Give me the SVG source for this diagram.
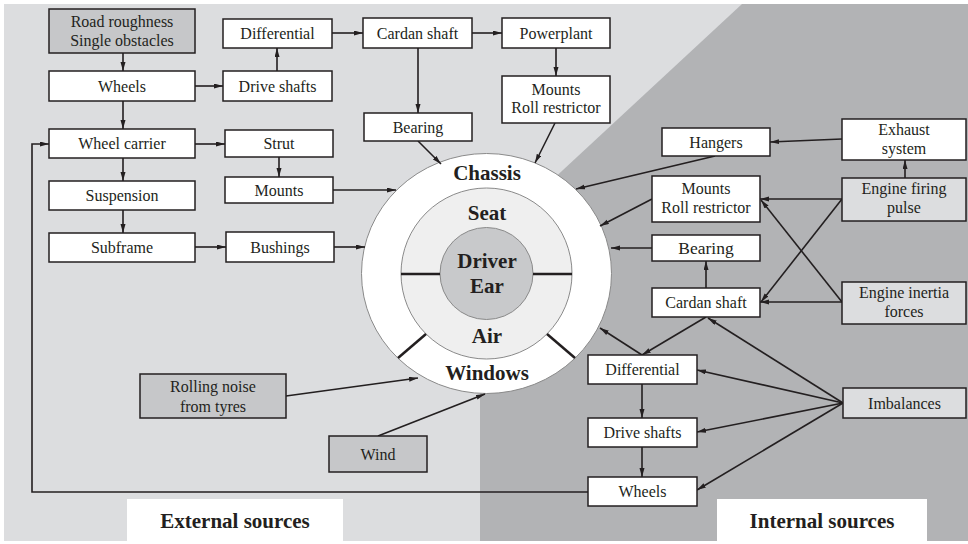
<svg xmlns="http://www.w3.org/2000/svg" width="968" height="544" viewBox="0 0 968 544">
<style>
.bx{fill:#fff;stroke:#231f20;stroke-width:1.5}
.mg{fill:#c6c7c9}
.lg{fill:#dcdddf}
.t{font-family:"Liberation Serif","Times New Roman",serif;font-size:16px;fill:#231f20;text-anchor:middle}
.tb{font-family:"Liberation Serif","Times New Roman",serif;font-size:21px;font-weight:bold;fill:#231f20;text-anchor:middle}
.c{fill:none;stroke:#231f20;stroke-width:1.6;marker-end:url(#ah)}
.ring{stroke:#8a8a8a;stroke-width:1}
.div{stroke:#231f20;stroke-width:2.5}
</style>
<defs>
<marker id="ah" markerUnits="userSpaceOnUse" markerWidth="10" markerHeight="6" refX="9" refY="2.5" orient="auto">
<path d="M0,0 L9,2.5 L0,5 z" fill="#231f20"/>
</marker>
</defs>
<rect x="0" y="0" width="968" height="544" fill="#fff"/>
<rect x="4" y="4" width="964" height="537" fill="#dcdddf"/>
<polygon points="742,4 968,4 968,541 480,541 480,247" fill="#b2b3b5"/>
<rect x="127" y="499" width="216" height="42" fill="#fff"/>
<text class="tb" x="235" y="528">External sources</text>
<rect x="717" y="499" width="210" height="42" fill="#fff"/>
<text class="tb" x="822" y="528">Internal sources</text>

<g id="cabin">
<ellipse cx="486.5" cy="273.5" rx="125" ry="120" fill="#fff" class="ring"/>
<ellipse cx="486.5" cy="273.5" rx="85.5" ry="85.5" fill="#efefef" class="ring"/>
<ellipse cx="486.5" cy="273.5" rx="46.5" ry="46" fill="#c8c9cb" class="ring"/>
<line class="div" x1="401" y1="274" x2="440" y2="274"/>
<line class="div" x1="533" y1="274" x2="572" y2="274"/>
<line class="div" x1="426" y1="334" x2="398" y2="358"/>
<line class="div" x1="547" y1="334" x2="575" y2="358"/>
<text class="tb" x="487" y="180">Chassis</text>
<text class="tb" x="487" y="220">Seat</text>
<text class="tb" x="487" y="268">Driver</text>
<text class="tb" x="487" y="293">Ear</text>
<text class="tb" x="487" y="343">Air</text>
<text class="tb" x="487" y="380">Windows</text>
</g>

<g id="connectors">
<line class="c" x1="123" y1="53" x2="123" y2="71"/>
<line class="c" x1="195" y1="86" x2="223" y2="86"/>
<line class="c" x1="277" y1="71" x2="277" y2="48"/>
<line class="c" x1="332" y1="33" x2="363" y2="33"/>
<line class="c" x1="472" y1="33" x2="502" y2="33"/>
<line class="c" x1="418" y1="48" x2="418" y2="113"/>
<line class="c" x1="556" y1="48" x2="556" y2="76"/>
<line class="c" x1="418" y1="141" x2="441" y2="164"/>
<line class="c" x1="555" y1="123" x2="535" y2="163"/>
<line class="c" x1="123" y1="101" x2="123" y2="129"/>
<line class="c" x1="195" y1="144" x2="225" y2="144"/>
<line class="c" x1="279" y1="157" x2="279" y2="177"/>
<line class="c" x1="333" y1="190" x2="396" y2="190"/>
<line class="c" x1="123" y1="158" x2="123" y2="181"/>
<line class="c" x1="123" y1="210" x2="123" y2="233"/>
<line class="c" x1="195" y1="247" x2="226" y2="247"/>
<line class="c" x1="334" y1="247" x2="365" y2="247"/>
<line class="c" x1="286" y1="396" x2="418" y2="378"/>
<line class="c" x1="378" y1="436" x2="485" y2="394"/>
<polyline class="c" points="588,492 32,492 32,144 49,144"/>
<line class="c" x1="842" y1="139" x2="770" y2="142"/>
<line class="c" x1="715" y1="156" x2="576" y2="189"/>
<line class="c" x1="905" y1="178" x2="905" y2="160"/>
<line class="c" x1="842" y1="199" x2="760" y2="199"/>
<line class="c" x1="842" y1="199" x2="761" y2="302"/>
<line class="c" x1="842" y1="302" x2="760" y2="302"/>
<line class="c" x1="842" y1="302" x2="761" y2="200"/>
<line class="c" x1="652" y1="199" x2="600" y2="226"/>
<line class="c" x1="706" y1="288" x2="706" y2="261"/>
<line class="c" x1="652" y1="248" x2="611" y2="248"/>
<line class="c" x1="706" y1="317" x2="642" y2="355"/>
<line class="c" x1="642" y1="355" x2="600" y2="328"/>
<line class="c" x1="843" y1="403" x2="708" y2="318"/>
<line class="c" x1="843" y1="403" x2="697" y2="370"/>
<line class="c" x1="843" y1="403" x2="697" y2="432"/>
<line class="c" x1="843" y1="403" x2="697" y2="490"/>
<line class="c" x1="642" y1="384" x2="642" y2="418"/>
<line class="c" x1="642" y1="447" x2="642" y2="477"/>
</g>

<g id="road"><rect class="bx mg" x="49" y="9" width="146" height="44"/><text class="t" x="122" y="27">Road roughness</text><text class="t" x="122" y="46">Single obstacles</text></g>
<g id="differential-ext"><rect class="bx" x="223" y="19" width="109" height="29"/><text class="t" x="277.5" y="39">Differential</text></g>
<g id="cardan-ext"><rect class="bx" x="363" y="18" width="109" height="30"/><text class="t" x="417.5" y="38.5">Cardan shaft</text></g>
<g id="powerplant"><rect class="bx" x="502" y="18" width="108" height="30"/><text class="t" x="556" y="38.5">Powerplant</text></g>
<g id="wheels-ext"><rect class="bx" x="49" y="71" width="146" height="30"/><text class="t" x="122" y="91.5">Wheels</text></g>
<g id="driveshafts-ext"><rect class="bx" x="223" y="71" width="109" height="30"/><text class="t" x="277.5" y="91.5">Drive shafts</text></g>
<g id="mounts-roll-ext"><rect class="bx" x="502" y="76" width="108" height="47"/><text class="t" x="556" y="95">Mounts</text><text class="t" x="556" y="113">Roll restrictor</text></g>
<g id="bearing-ext"><rect class="bx" x="364" y="113" width="108" height="28"/><text class="t" x="418" y="132.5">Bearing</text></g>
<g id="wheel-carrier"><rect class="bx" x="49" y="129" width="146" height="29"/><text class="t" x="122" y="149">Wheel carrier</text></g>
<g id="strut"><rect class="bx" x="225" y="130" width="108" height="27"/><text class="t" x="279" y="149">Strut</text></g>
<g id="mounts-ext"><rect class="bx" x="225" y="177" width="108" height="26"/><text class="t" x="279" y="195.5">Mounts</text></g>
<g id="suspension"><rect class="bx" x="49" y="181" width="146" height="29"/><text class="t" x="122" y="201">Suspension</text></g>
<g id="subframe"><rect class="bx" x="49" y="233" width="146" height="29"/><text class="t" x="122" y="253">Subframe</text></g>
<g id="bushings"><rect class="bx" x="226" y="232" width="108" height="30"/><text class="t" x="280" y="252.5">Bushings</text></g>
<g id="rolling-noise"><rect class="bx mg" x="140" y="374" width="146" height="44"/><text class="t" x="213" y="391.5">Rolling noise</text><text class="t" x="213" y="411.5">from tyres</text></g>
<g id="wind"><rect class="bx mg" x="329" y="436" width="98" height="36"/><text class="t" x="378" y="459.5">Wind</text></g>

<g id="hangers"><rect class="bx" x="662" y="128" width="108" height="28"/><text class="t" x="716" y="147.5">Hangers</text></g>
<g id="exhaust"><rect class="bx" x="842" y="119" width="124" height="41"/><text class="t" x="904" y="135">Exhaust</text><text class="t" x="904" y="154">system</text></g>
<g id="mounts-roll-int"><rect class="bx" x="652" y="176" width="108" height="46"/><text class="t" x="706" y="194">Mounts</text><text class="t" x="706" y="213">Roll restrictor</text></g>
<g id="engine-firing"><rect class="bx lg" x="842" y="178" width="124" height="43"/><text class="t" x="904" y="194">Engine firing</text><text class="t" x="904" y="213">pulse</text></g>
<g id="bearing-int"><rect class="bx" x="652" y="235" width="108" height="26"/><text class="t" x="706" y="254" style="font-size:17.5px">Bearing</text></g>
<g id="cardan-int"><rect class="bx" x="652" y="288" width="108" height="29"/><text class="t" x="706" y="308">Cardan shaft</text></g>
<g id="engine-inertia"><rect class="bx lg" x="842" y="282" width="124" height="42"/><text class="t" x="904" y="298">Engine inertia</text><text class="t" x="904" y="317">forces</text></g>
<g id="differential-int"><rect class="bx" x="588" y="355" width="109" height="29"/><text class="t" x="642.5" y="375">Differential</text></g>
<g id="driveshafts-int"><rect class="bx" x="588" y="418" width="109" height="29"/><text class="t" x="642.5" y="438">Drive shafts</text></g>
<g id="wheels-int"><rect class="bx" x="588" y="477" width="109" height="29"/><text class="t" x="642.5" y="497">Wheels</text></g>
<g id="imbalances"><rect class="bx lg" x="843" y="388" width="123" height="30"/><text class="t" x="904.5" y="408.5">Imbalances</text></g>
</svg>
